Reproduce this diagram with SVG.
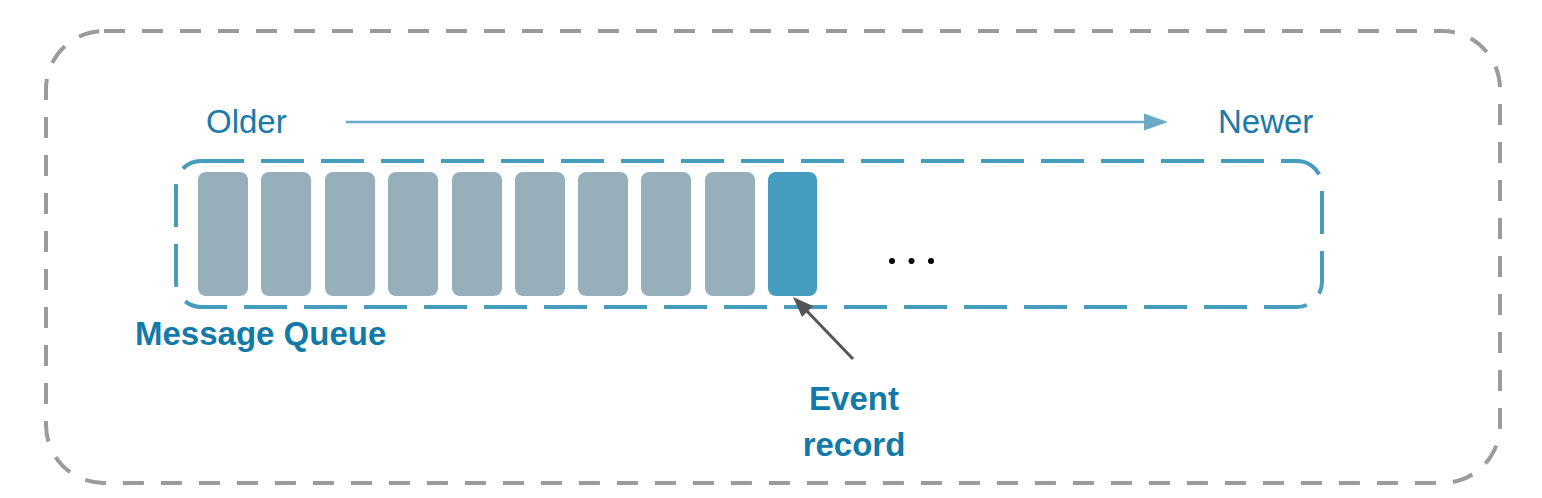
<svg xmlns="http://www.w3.org/2000/svg" width="1542" height="498" viewBox="0 0 1542 498">
<defs>
<style>
.bar{fill:#96b0bb}
.cur{fill:#449dbf}
.lbl{font-family:"Liberation Sans",Arial,sans-serif;font-size:33px;fill:#1a7aaa}
.bold{font-family:"Liberation Sans",Arial,sans-serif;font-size:33px;font-weight:bold;fill:#127aa9}
</style>
</defs>
<rect width="1542" height="498" fill="#fff"/>
<g id="outer">
<rect x="46" y="31" width="1454" height="452" rx="58" ry="58" fill="none" stroke="#9b9b9b" stroke-width="4" stroke-dasharray="21 17"/>
</g>
<g id="queue">
<rect x="176" y="161" width="1146" height="146" rx="25" ry="25" fill="none" stroke="#459cbd" stroke-width="4" stroke-dasharray="43 17"/>
<text class="bold" x="135" y="345">Message Queue</text>
</g>
<g id="records">
<rect class="bar" x="198" y="172" width="50" height="124" rx="8"/>
<rect class="bar" x="261" y="172" width="50" height="124" rx="8"/>
<rect class="bar" x="325" y="172" width="50" height="124" rx="8"/>
<rect class="bar" x="388" y="172" width="50" height="124" rx="8"/>
<rect class="bar" x="452" y="172" width="50" height="124" rx="8"/>
<rect class="bar" x="515" y="172" width="50" height="124" rx="8"/>
<rect class="bar" x="578" y="172" width="50" height="124" rx="8"/>
<rect class="bar" x="641" y="172" width="50" height="124" rx="8"/>
<rect class="bar" x="705" y="172" width="50" height="124" rx="8"/>
<rect class="cur" x="768" y="172" width="49" height="124" rx="8"/>
<circle cx="892" cy="261" r="3" fill="#000"/>
<circle cx="911.5" cy="261" r="3" fill="#000"/>
<circle cx="931" cy="261" r="3" fill="#000"/>
</g>
<g id="labels">
<text class="lbl" x="206" y="133">Older</text>
<text class="lbl" x="1218" y="133">Newer</text>
<text class="bold" x="854" y="410" text-anchor="middle">Event</text>
<text class="bold" x="854" y="456" text-anchor="middle">record</text>
</g>
<g id="connectors">
<line x1="346" y1="122" x2="1150" y2="122" stroke="#6aaac4" stroke-width="2.5"/>
<path d="M1168,122 L1144,113.5 L1144,130.5 Z" fill="#6aaac4"/>
<line x1="853" y1="359" x2="805" y2="309" stroke="#555" stroke-width="3"/>
<path d="M793,297 L813,306 L802,317 Z" fill="#555"/>
</g>
</svg>
